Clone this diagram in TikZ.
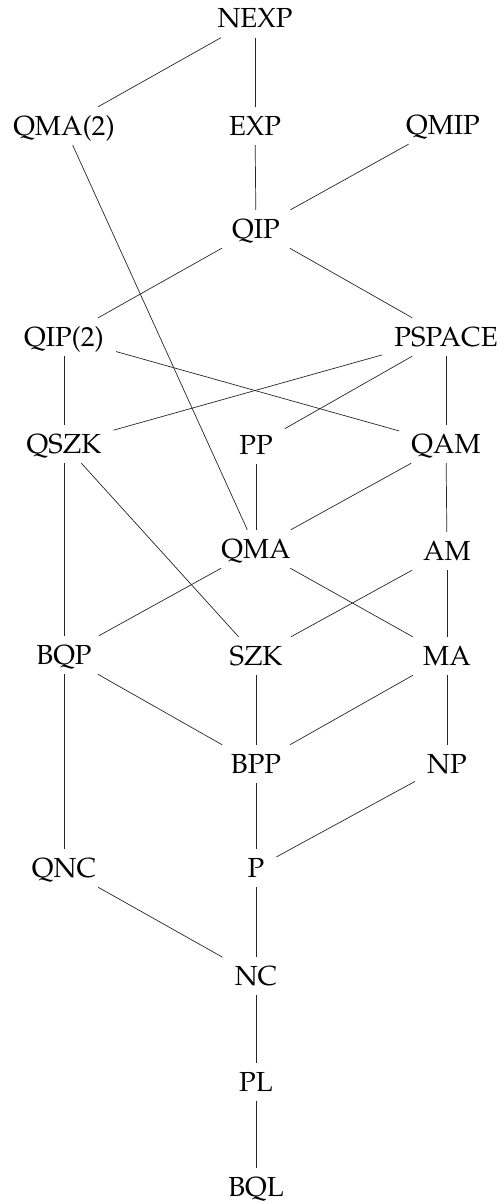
\documentclass[tikz,border=0pt]{standalone}
\usepackage[T1]{fontenc}
\renewcommand{\rmdefault}{ppl}
\begin{document}
\begin{tikzpicture}[x=1pt,y=-1pt,
  cls/.style={rectangle,inner xsep=12pt,inner ysep=9pt,text height=19pt,text depth=1pt,
    font=\fontsize{27.6}{30}\selectfont},
  edge/.style={line width=0.7pt,draw=black!85}]
\useasboundingbox (0,0) rectangle (503,1203);
\node[cls] (nexp) at (255,18.5) {NEXP};
\node[cls] (qma2) at (64,126) {QMA(2)};
\node[cls] (exp) at (255,126) {EXP};
\node[cls] (qmip) at (443,125) {QMIP};
\node[cls] (qip) at (256,229) {QIP};
\node[cls] (qip2) at (64,337) {QIP(2)};
\node[cls] (pspace) at (446,337) {PSPACE};
\node[cls] (qszk) at (64,444) {QSZK};
\node[cls] (pp) at (256,445) {PP};
\node[cls] (qam) at (446,444) {QAM};
\node[cls] (qma) at (256,549) {QMA};
\node[cls] (am) at (447,551) {AM};
\node[cls] (bqp) at (64,655) {BQP};
\node[cls] (szk) at (256,656) {SZK};
\node[cls] (ma) at (447,656) {MA};
\node[cls] (bpp) at (256,764) {BPP};
\node[cls] (np) at (447,764) {NP};
\node[cls] (qnc) at (64,868) {QNC};
\node[cls] (p) at (256,868) {P};
\node[cls] (nc) at (256,976) {NC};
\node[cls] (pl) at (256,1082) {PL};
\node[cls] (bql) at (256,1187) {BQL};
\begin{scope}[edge]
\draw (nexp) -- (qma2);
\draw (nexp) -- (exp);
\draw (exp) -- (qip);
\draw (qmip) -- (qip);
\draw (qip) -- (qip2);
\draw (qip) -- (pspace);
\draw (qma2) -- (qma);
\draw (qip2) -- (qszk);
\draw (qip2) -- (qam);
\draw (pspace) -- (qszk);
\draw (pspace) -- (pp);
\draw (pspace) -- (qam);
\draw (pp) -- (qma);
\draw (qam) -- (qma);
\draw (qam) -- (am);
\draw (qszk) -- (bqp);
\draw (qszk) -- (szk);
\draw (qma) -- (bqp);
\draw (qma) -- (ma);
\draw (am) -- (szk);
\draw (am) -- (ma);
\draw (bqp) -- (bpp);
\draw (bqp) -- (qnc);
\draw (szk) -- (bpp);
\draw (ma) -- (bpp);
\draw (ma) -- (np);
\draw (bpp) -- (p);
\draw (np) -- (p);
\draw (qnc) -- (nc);
\draw (p) -- (nc);
\draw (nc) -- (pl);
\draw (pl) -- (bql);
\end{scope}
\end{tikzpicture}
\end{document}
